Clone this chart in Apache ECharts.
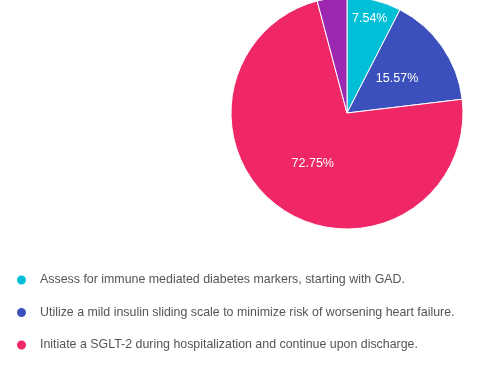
<!DOCTYPE html>
<html>
<head>
<meta charset="utf-8">
<script src="https://cdn.jsdelivr.net/npm/echarts@6/dist/echarts.min.js"></script>
<style>
html,body{margin:0;padding:0;background:#fff;}
#c{width:500px;height:372px;}
</style>
</head>
<body>
<div id="c"></div>
<script>
var categories = [
  "Assess for immune mediated diabetes markers, starting with GAD.",
  "Utilize a mild insulin sliding scale to minimize risk of worsening heart failure.",
  "Initiate a SGLT-2 during hospitalization and continue upon discharge.",
  "Other"
];
var values = [7.54, 15.57, 72.75, 4.14];
var colors = ["#00BFD6", "#3C50BD", "#F02766", "#9C27B0"];

var chart = echarts.init(document.getElementById('c'), null, {renderer: 'canvas'});

var mainData = categories.map(function (n, i) {
  return {
    name: n,
    value: values[i],
    label: { show: i > 0 && values[i] > 5 }
  };
});
var overlayData = categories.map(function (n, i) {
  return {
    name: n,
    value: values[i],
    label: { show: i === 0 }
  };
});

var labelStyle = {
  position: 'inside',
  formatter: '{d}%',
  color: '#ffffff',
  fontSize: 12.5,
  fontFamily: 'Liberation Sans, Arial, sans-serif'
};

chart.setOption({
  animation: false,
  color: colors,
  legend: {
    orient: 'vertical',
    left: 10,
    top: 266.5,
    height: 300,
    itemWidth: 11,
    itemHeight: 11,
    itemGap: 15.5,
    icon: 'circle',
    data: categories,
    textStyle: {
      color: '#555555',
      fontSize: 12.4,
      fontFamily: 'Liberation Sans, Arial, sans-serif',
      lineHeight: 14,
      padding: [3, 0, 0, 8]
    }
  },
  series: [
    {
      type: 'pie',
      center: [347, 113],
      radius: [0, 116],
      startAngle: 90,
      clockwise: true,
      avoidLabelOverlap: false,
      itemStyle: { borderColor: '#ffffff', borderWidth: 1 },
      label: labelStyle,
      labelLine: { show: false },
      emphasis: { disabled: true },
      data: mainData
    },
    {
      type: 'pie',
      center: [347, 113],
      radius: [72, 116],
      startAngle: 90,
      clockwise: true,
      silent: true,
      avoidLabelOverlap: false,
      itemStyle: { color: 'rgba(0,0,0,0)', borderWidth: 0 },
      label: labelStyle,
      labelLine: { show: false },
      emphasis: { disabled: true },
      data: overlayData
    }
  ]
});
</script>
</body>
</html>
